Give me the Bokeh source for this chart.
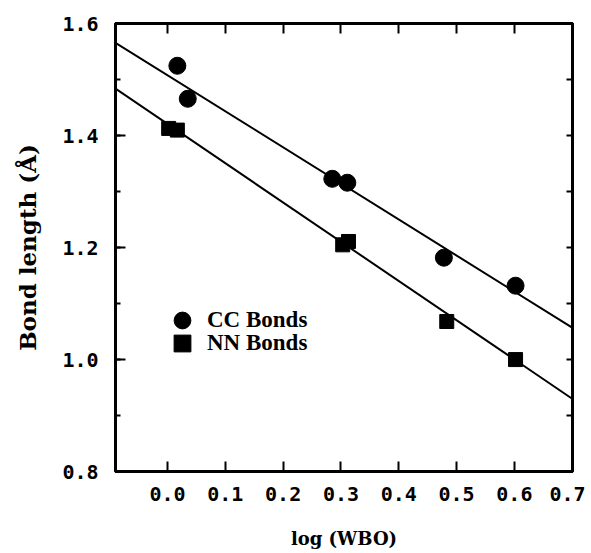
from bokeh.plotting import figure
from bokeh.models import (Range1d, LinearAxis, SingleIntervalTicker, PrintfTickFormatter,
                          Legend, LegendItem, CustomLabelingPolicy)
from bokeh.embed import file_html
from bokeh.resources import INLINE

# ---- data ----
cc_x = [0.017, 0.035, 0.285, 0.311, 0.478, 0.602]
cc_y = [1.525, 1.466, 1.323, 1.316, 1.182, 1.132]
nn_x = [0.002, 0.017, 0.303, 0.313, 0.483, 0.602]
nn_y = [1.413, 1.410, 1.205, 1.211, 1.068, 1.000]

# least-squares fit lines drawn across the frame (end points)
fit_x = [-0.09, 0.70]
cc_fit_y = [1.566, 1.057]
nn_fit_y = [1.484, 0.930]

x_label = "log (WBO)"
y_label = "Bond length (Å)"
series_labels = ["CC Bonds", "NN Bonds"]

TICK_FONT = "DejaVu Sans Mono"
LABEL_FONT = "DejaVu Serif"

p = figure(width=585, height=553,
           x_range=Range1d(-0.09, 0.7005), y_range=Range1d(0.8, 1.6005),
           output_backend="svg", toolbar_location=None,
           min_border_left=115, min_border_right=13,
           min_border_top=23, min_border_bottom=82,
           x_axis_label=x_label, y_axis_label=y_label)

p.xgrid.visible = False
p.ygrid.visible = False
p.background_fill_color = "white"
p.border_fill_color = "white"
p.outline_line_color = "black"
p.outline_line_width = 3

def style_axis(ax):
    ax.axis_line_width = 3
    ax.axis_line_color = "black"
    ax.major_tick_line_color = "black"
    ax.major_tick_line_width = 2
    ax.minor_tick_line_color = "black"
    ax.minor_tick_line_width = 2
    ax.major_tick_out = 0
    ax.minor_tick_out = 0
    ax.major_label_text_font = TICK_FONT
    ax.major_label_text_font_style = "bold"
    ax.major_label_text_font_size = "20px"
    ax.major_label_text_color = "black"
    ax.axis_label_text_font = LABEL_FONT
    ax.axis_label_text_font_style = "bold"
    ax.axis_label_text_color = "black"

# bottom axis
xa = p.xaxis[0]
xa.ticker = SingleIntervalTicker(interval=0.1, num_minor_ticks=0)
xa.formatter = PrintfTickFormatter(format="%.1f")
style_axis(xa)
xa.major_tick_in = 10
xa.major_label_standoff = 15
xa.axis_label_standoff = 24
xa.axis_label_text_font_size = "18px"

# left axis
ya = p.yaxis[0]
ya.ticker = SingleIntervalTicker(interval=0.2, num_minor_ticks=2)
ya.formatter = PrintfTickFormatter(format="%.1f")
style_axis(ya)
ya.major_tick_in = 10
ya.minor_tick_in = 5
ya.major_label_standoff = 17
ya.axis_label_standoff = 18
ya.axis_label_text_font_size = "23px"

def ticks_only(ax, tick_len):
    style_axis(ax)
    ax.major_tick_in = tick_len
    ax.major_label_policy = CustomLabelingPolicy(code="return []")
    ax.major_label_text_font_size = "0px"
    ax.major_label_standoff = 0
    ax.minor_tick_line_color = None

# top axis (ticks only)
top = LinearAxis(ticker=SingleIntervalTicker(interval=0.1, num_minor_ticks=0))
ticks_only(top, 10)
p.add_layout(top, "above")

# right axis (ticks only)
right = LinearAxis(ticker=SingleIntervalTicker(interval=0.1, num_minor_ticks=0))
ticks_only(right, 6)
p.add_layout(right, "right")

# fit lines
p.line(fit_x, cc_fit_y, line_color="black", line_width=2)
p.line(fit_x, nn_fit_y, line_color="black", line_width=2)

# points
r_cc = p.scatter(cc_x, cc_y, marker="circle", size=17, fill_color="black", line_color="black")
r_nn = p.scatter(nn_x, nn_y, marker="square", size=14, fill_color="black", line_color="black")

def make_legend(label, renderer, loc):
    return Legend(items=[LegendItem(label=label, renderers=[renderer])],
                  location=loc, orientation="vertical",
                  glyph_width=42, glyph_height=42, label_height=42,
                  padding=0, margin=0, label_standoff=4,
                  label_text_font="Liberation Serif", label_text_font_style="bold",
                  label_text_font_size="23px", label_text_color="black",
                  background_fill_alpha=0, border_line_alpha=0)

p.add_layout(make_legend(series_labels[0], r_cc, (46, 130)), "center")
p.add_layout(make_legend(series_labels[1], r_nn, (46, 107)), "center")

open("out.html", "w").write(file_html(p, INLINE))
